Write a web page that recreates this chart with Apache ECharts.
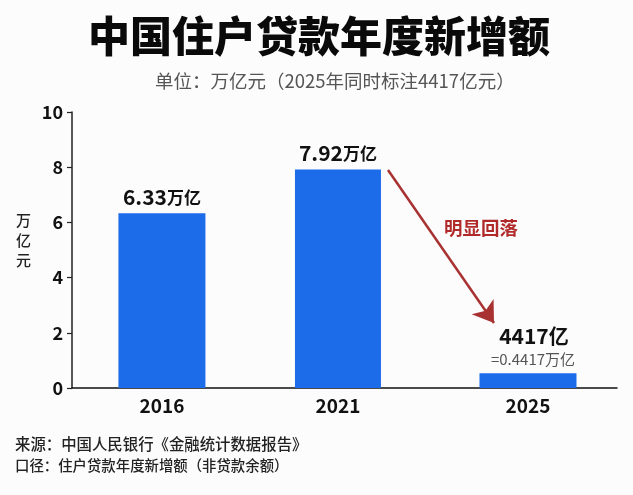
<!DOCTYPE html>
<html>
<head>
<meta charset="utf-8">
<style>
  html, body { margin: 0; padding: 0; background: #fcfcfc; }
  #chart { width: 633px; height: 495px; }
</style>
<script src="https://cdn.jsdelivr.net/npm/echarts@6/dist/echarts.min.js"></script>
</head>
<body>
<div id="chart"></div>
<script>
const years = ["2016", "2021", "2025"];
// heights as drawn in the picture (the 2025 bar is drawn a little taller than 0.4417)
const values = [6.33, 7.92, 0.53];
const bigLabels = ["6.33", "7.92", "4417"];
const unitLabels = ["万亿", "万亿", "亿"];
const yTicks = [0, 2, 4, 6, 8, 10];
// the bars are not evenly spaced in the original, so x is a plain 0-3 scale
const slots = [0.495, 1.464, 2.51];
const barWidths = [87, 86, 97];

const FONT = '"Noto Sans CJK SC", "Noto Sans", sans-serif';

const chart = echarts.init(document.getElementById("chart"));

function renderBar(params, api) {
  const i = params.dataIndex;
  const top = api.coord([api.value(0), api.value(1)]);
  const base = api.coord([api.value(0), 0]);
  const w = barWidths[i];
  const children = [
    {
      type: "rect",
      shape: { x: top[0] - w / 2, y: top[1], width: w, height: base[1] - top[1] },
      style: { fill: "#1c6be9" },
    },
  ];
  if (i === 2) {
    // 2025 has a second small line under the number
    children.push(
      {
        type: "text",
        x: top[0] + 5,
        y: top[1] - 14,
        style: {
          text: "=0.4417万亿",
          font: "15px " + FONT,
          fill: "#555",
          align: "center",
          verticalAlign: "middle",
        },
      },
      {
        type: "text",
        x: top[0] + 6,
        y: top[1] - 37,
        style: {
          text: "{n|" + bigLabels[i] + "}{u|" + unitLabels[i] + "}",
          rich: {
            n: { font: "bold 21px " + FONT, fill: "#111" },
            u: { font: "bold 20px " + FONT, fill: "#111" },
          },
          align: "center",
          verticalAlign: "middle",
        },
      }
    );
  } else {
    children.push({
      type: "text",
      x: top[0],
      y: top[1] - 16,
      style: {
        text: "{n|" + bigLabels[i] + "}{u|" + unitLabels[i] + "}",
        rich: {
          n: { font: "bold 21px " + FONT, fill: "#111" },
          u: { font: "bold 17px " + FONT, fill: "#111" },
        },
        align: "center",
        verticalAlign: "middle",
      },
    });
  }
  return { type: "group", children };
}

const option = {
  backgroundColor: "#fcfcfc",
  animation: false,
  textStyle: { fontFamily: FONT },
  title: [
    {
      text: "中国住户贷款年度新增额",
      left: 83,
      top: 10,
      textStyle: { fontSize: 42, fontWeight: 900, color: "#0a0a0a", fontFamily: FONT },
    },
    {
      text: "单位：万亿元（2025年同时标注4417亿元）",
      left: 150,
      top: 67,
      textStyle: { fontSize: 18.5, fontWeight: "normal", color: "#555", fontFamily: FONT },
    },
  ],
  grid: { left: 72, right: 16, top: 112, bottom: 107 },
  xAxis: {
    type: "value",
    min: 0,
    max: 3,
    splitLine: { show: false },
    axisLine: { show: true, lineStyle: { color: "#111", width: 1.5 } },
    axisTick: { show: false },
    axisLabel: {
      customValues: slots,
      formatter: (v) => years[slots.indexOf(v)],
      fontSize: 19,
      fontWeight: "bold",
      color: "#111",
      margin: 8,
    },
  },
  yAxis: {
    type: "value",
    min: 0,
    max: 10,
    interval: 2,
    // trailing blank line lifts the name above the axis middle
    name: "万\n亿\n元\n ",
    nameLocation: "middle",
    nameRotate: 0,
    nameGap: 41,
    nameTextStyle: {
      fontSize: 15,
      lineHeight: 20,
      color: "#222",
      fontWeight: 500,
    },
    splitLine: { show: false },
    axisLine: { show: true, lineStyle: { color: "#222", width: 1.5 } },
    axisTick: { show: true, length: 5, lineStyle: { color: "#222", width: 1.2 } },
    axisLabel: {
      customValues: yTicks,
      fontSize: 18,
      fontWeight: "bold",
      color: "#111",
      margin: 9,
    },
  },
  series: [
    {
      type: "custom",
      renderItem: renderBar,
      encode: { x: 0, y: 1 },
      clip: false,
      data: values.map((v, i) => [slots[i], v]),
      markLine: {
        silent: true,
        symbol: ["none", "arrow"],
        symbolSize: 20,
        label: { show: false },
        lineStyle: { color: "#a83232", width: 2.5, type: "solid" },
        data: [[{ x: 388, y: 170 }, { x: 494, y: 323 }]],
      },
    },
  ],
  graphic: [
    {
      type: "text",
      x: 481,
      y: 228,
      style: {
        text: "明显回落",
        font: "bold 18.5px " + FONT,
        fill: "#b02a2a",
        align: "center",
        verticalAlign: "middle",
      },
    },
    {
      type: "text",
      x: 15,
      y: 444,
      style: {
        text: "来源：中国人民银行《金融统计数据报告》",
        font: "500 15.4px " + FONT,
        fill: "#222",
        verticalAlign: "middle",
      },
    },
    {
      type: "text",
      x: 15,
      y: 466,
      style: {
        text: "口径：住户贷款年度新增额（非贷款余额）",
        font: "500 14.4px " + FONT,
        fill: "#222",
        verticalAlign: "middle",
      },
    },
  ],
};

chart.setOption(option);
</script>
</body>
</html>
